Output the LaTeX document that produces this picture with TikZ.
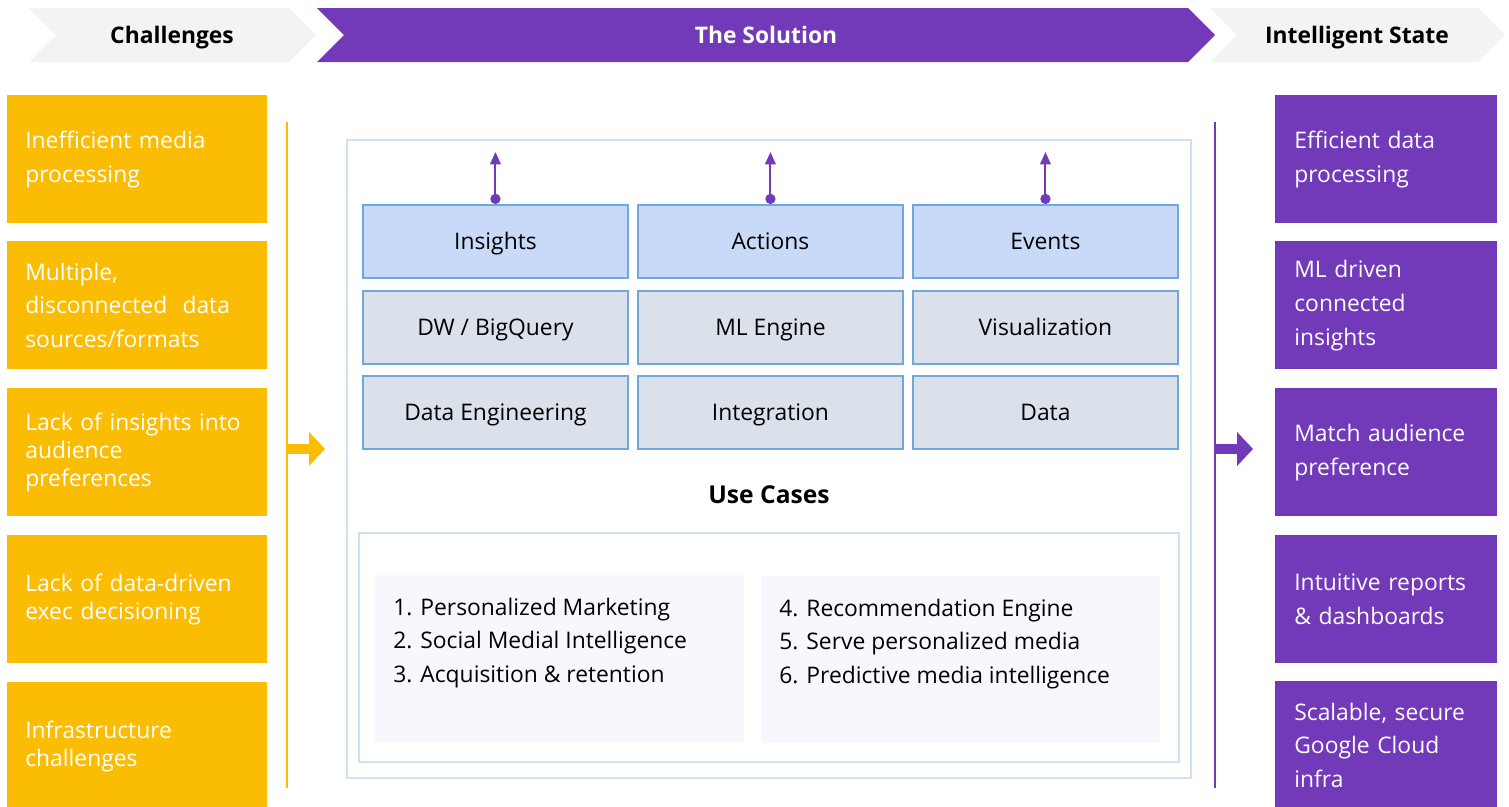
\documentclass[tikz,border=0pt]{standalone}
\usepackage{fontspec}
\setmainfont{Open Sans}
\usetikzlibrary{calc,positioning,arrows.meta}
\definecolor{gyellow}{HTML}{FBBC04}
\definecolor{gpurple}{HTML}{7239B8}
\definecolor{ggray}{HTML}{F3F3F3}
\definecolor{frameblue}{HTML}{CFE2F3}
\definecolor{cellblue}{HTML}{C9DAF8}
\definecolor{cellgray}{HTML}{DAE1EA}
\definecolor{celledge}{HTML}{6FA8DC}
\definecolor{panelfill}{HTML}{F8F7FE}
\tikzset{
  chall/.style={fill=gyellow, text=white, anchor=north west, minimum width=5.2cm, minimum height=2.56cm,
    text width=4.48cm, inner xsep=0.36cm, inner ysep=0pt, align=left, font=\fontsize{13}{19.3}\selectfont},
  tight/.style={font=\fontsize{13}{15.9}\selectfont},
  result/.style={fill=gpurple, text=white, anchor=north west, minimum width=4.44cm, minimum height=2.56cm,
    text width=3.68cm, inner xsep=0.38cm, inner ysep=0pt, align=left, font=\fontsize{13}{19.3}\selectfont},
  cell/.style={draw=celledge, line width=1.1pt, fill=cellgray, anchor=north west, minimum width=5.3cm,
    minimum height=1.46cm, inner sep=0pt, text height=9.3pt, text depth=0pt, font=\fontsize{13}{16}\selectfont},
  topcell/.style={cell, fill=cellblue},
  panel/.style={fill=panelfill, anchor=north west, minimum height=3.34cm, inner sep=0pt},
  uclist/.style={anchor=west, align=left, inner sep=0pt, font=\fontsize{13}{19.3}\selectfont},
  head/.style={font=\bfseries\fontsize{13}{16}\selectfont, inner sep=0pt, text height=9.3pt, text depth=0pt},
  outarrow/.style={gpurple, line width=1.1pt, {Circle[length=5.8pt]}-{Triangle[length=7pt,width=6pt]}},
  bigarrow/.style={line width=6.2pt, -{Triangle[length=9pt,width=18.7pt]}}
}
\begin{document}
\begin{tikzpicture}[x=0.02cm, y=-0.02cm]
    \useasboundingbox (0,0) rectangle (1509,806);
    % header chevrons
    \fill[ggray] (29,8) -- (289,8) -- (316,35) -- (289,62) -- (29,62) -- (56,35) -- cycle;
    \fill[gpurple] (317,8) -- (1188,8) -- (1215,35) -- (1188,62) -- (317,62) -- (344,35) -- cycle;
    \fill[ggray] (1210,8) -- (1478,8) -- (1505,35) -- (1478,62) -- (1210,62) -- (1237,35) -- cycle;
    \node[head] (hchall) at (172,35) {Challenges};
    \node[head, text=white] (hsol) at (766,35) {The Solution};
    \node[head] (hstate) at (1357,35) {Intelligent State};
    % challenges
    \node[chall] (c1) at (7,95) {Inefficient media\\processing};
    \node[chall] (c2) at (7,241) {Multiple,\\disconnected~ data\\sources/formats};
    \node[chall, tight] (c3) at (7,388) {Lack of insights into\\audience\\preferences};
    \node[chall, tight] (c4) at (7,535) {Lack of data-driven\\exec decisioning};
    \node[chall, tight] (c5) at (7,682) {Infrastructure\\challenges};
    % intelligent state
    \node[result] (r1) at (1275,95) {Efficient data\\processing};
    \node[result] (r2) at (1275,241) {ML driven\\connected\\insights};
    \node[result] (r3) at (1275,388) {Match audience\\preference};
    \node[result] (r4) at (1275,535) {Intuitive reports\\\& dashboards};
    \node[result] (r5) at (1275,681) {Scalable, secure\\Google Cloud\\infra};
    % side bars
    \coordinate (ytop) at (287,122);
    \coordinate (ybot) at (287,788);
    \coordinate (yfrom) at (287,449);
    \coordinate (yto) at (325,449);
    \draw[gyellow, line width=1.4pt] (ytop) -- (ybot);
    \draw[gyellow, bigarrow] (yfrom) -- (yto);
    \coordinate (ptop) at (1215,122);
    \coordinate (pbot) at (1215,788);
    \coordinate (pfrom) at (1215,449);
    \coordinate (pto) at (1253,449);
    \draw[gpurple, line width=1.4pt] (ptop) -- (pbot);
    \draw[gpurple, bigarrow] (pfrom) -- (pto);
    % solution frame
    \draw[frameblue, line width=1pt] (347,140) rectangle (1191,778);
    \node[topcell] (ins) at (362,204) {Insights};
    \node[topcell] (act) at (637,204) {Actions};
    \node[topcell] (evt) at (912,204) {Events};
    \node[cell] (dw) at (362,290) {DW / BigQuery};
    \node[cell] (ml) at (637,290) {ML Engine};
    \node[cell] (vis) at (912,290) {Visualization};
    \node[cell] (de) at (362,375) {Data Engineering};
    \node[cell] (integ) at (637,375) {Integration};
    \node[cell] (data) at (912,375) {Data};
    \coordinate (insout) at ($(ins.north)+(0,-52)$);
    \coordinate (actout) at ($(act.north)+(0,-52)$);
    \coordinate (evtout) at ($(evt.north)+(0,-52)$);
    \draw[outarrow] (ins.north) -- (insout);
    \draw[outarrow] (act.north) -- (actout);
    \draw[outarrow] (evt.north) -- (evtout);
    % use cases
    \node[head, font=\bfseries\fontsize{14}{17}\selectfont, text height=10pt] (uc) at (769,495) {Use Cases};
    \draw[frameblue, line width=1pt] (359,533) rectangle (1179,762);
    \node[panel, minimum width=7.38cm] (ucleft) at (375,575) {};
    \node[panel, minimum width=7.98cm] (ucright) at (761,576) {};
    \node[uclist] (listl) at (393,643) {1. Personalized Marketing\\2. Social Medial Intelligence\\3. Acquisition \& retention};
    \node[uclist] (listr) at (779,644) {4. Recommendation Engine\\5. Serve personalized media\\6. Predictive media intelligence};
\end{tikzpicture}
\end{document}
